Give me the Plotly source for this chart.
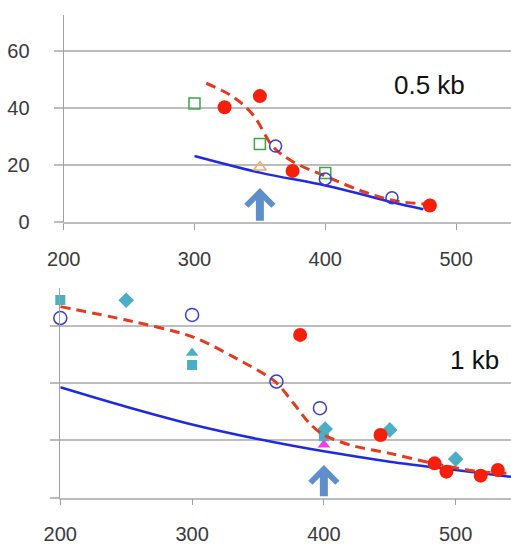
import plotly.graph_objects as go

# ---------------- Top panel (0.5 kb) ----------------
top_red_x = [323, 350, 375, 480]
top_red_y = [40.3, 44.2, 18.0, 5.9]
top_green_x = [300, 350, 400]
top_green_y = [41.6, 27.4, 17.3]
top_blue_x = [362, 400, 451]
top_blue_y = [26.7, 15.2, 8.6]
top_orange_x = [350]
top_orange_y = [19.3]

top_dash_x = [309, 330, 345, 360, 375, 400, 430, 455, 478]
top_dash_y = [48.7, 43.8, 37.5, 26.5, 21.3, 16.2, 10.6, 7.4, 6.4]
top_fit_x = [300, 350, 400, 432, 451, 475]
top_fit_y = [23.2, 17.4, 12.9, 9.3, 7.0, 4.6]

# ---------------- Bottom panel (1 kb) ----------------
bot_red_x = [382, 443, 484, 493, 519, 532]
bot_red_y = [56.9, 21.9, 12.0, 9.1, 7.7, 9.7]
bot_blue_x = [200, 300, 364, 397]
bot_blue_y = [62.8, 63.9, 40.6, 31.3]
bot_csq_x = [200, 300, 400]
bot_csq_y = [69.1, 46.4, 21.5]
bot_ctri_x = [300]
bot_ctri_y = [50.6]
bot_cdia_x = [250, 401, 450, 500]
bot_cdia_y = [69.0, 24.0, 23.7, 13.5]
bot_mag_x = [400]
bot_mag_y = [18.5]

bot_dash_x = [200, 250, 300, 331, 363, 377, 389, 400, 420, 450, 483, 518, 542]
bot_dash_y = [66.8, 62.1, 56.3, 49.3, 40.6, 33.0, 26.0, 21.9, 18.4, 15.5, 12.0, 9.1, 8.5]
bot_fit_x = [200, 250, 300, 350, 400, 450, 500, 542]
bot_fit_y = [38.6, 31.8, 25.6, 20.5, 16.2, 12.6, 9.7, 7.3]

x_ticks = [200, 300, 400, 500]
y_ticks = [0, 20, 40, 60]
labels = ["0.5 kb", "1 kb"]
arrow_x = [350, 400]
arrow_tip = [12.0, 11.4]

RED = "#F5200C"
DASH = "#E53A1E"
BLUE_LINE = "#1F2BE0"
OPEN_BLUE = "#3B3BD8"
GREEN = "#3FA34A"
ORANGE = "#F3A56A"
CYAN = "#4AAEC4"
MAGENTA = "#EE3FEE"
ARROW = "#5E8FCB"

fig = go.Figure()

def add(x, y, xa, ya, **kw):
    fig.add_trace(go.Scatter(x=x, y=y, xaxis=xa, yaxis=ya, showlegend=False, cliponaxis=False, **kw))

DASHSTYLE = "10px,6px"

# top
add(top_fit_x, top_fit_y, "x", "y", mode="lines",
    line=dict(color=BLUE_LINE, width=2.5, shape="spline", smoothing=1))
add(top_dash_x, top_dash_y, "x", "y", mode="lines",
    line=dict(color=DASH, width=3, dash=DASHSTYLE, shape="spline", smoothing=1))
add(top_green_x, top_green_y, "x", "y", mode="markers",
    marker=dict(symbol="square-open", size=11, color=GREEN, line=dict(width=1.5)))
add(top_orange_x, top_orange_y, "x", "y", mode="markers",
    marker=dict(symbol="triangle-up-open", size=11, color=ORANGE, line=dict(width=1.5)))
add(top_blue_x, top_blue_y, "x", "y", mode="markers",
    marker=dict(symbol="circle-open", size=12, color=OPEN_BLUE, line=dict(width=1.5)))
add(top_red_x, top_red_y, "x", "y", mode="markers",
    marker=dict(symbol="circle", size=14, color=RED))

# bottom
add(bot_fit_x, bot_fit_y, "x2", "y2", mode="lines",
    line=dict(color=BLUE_LINE, width=2.5, shape="spline", smoothing=1))
add(bot_csq_x, bot_csq_y, "x2", "y2", mode="markers", marker=dict(symbol="square", size=10, color=CYAN))
add(bot_ctri_x, bot_ctri_y, "x2", "y2", mode="markers", marker=dict(symbol="triangle-up", size=11, color=CYAN))
add(bot_cdia_x, bot_cdia_y, "x2", "y2", mode="markers", marker=dict(symbol="diamond", size=12, color=CYAN))
add(bot_mag_x, bot_mag_y, "x2", "y2", mode="markers", marker=dict(symbol="triangle-up", size=11, color=MAGENTA))
add(bot_dash_x, bot_dash_y, "x2", "y2", mode="lines",
    line=dict(color=DASH, width=3, dash=DASHSTYLE, shape="spline", smoothing=0.8))
add(bot_blue_x, bot_blue_y, "x2", "y2", mode="markers",
    marker=dict(symbol="circle-open", size=13, color=OPEN_BLUE, line=dict(width=1.5)))
add(bot_red_x, bot_red_y, "x2", "y2", mode="markers", marker=dict(symbol="circle", size=14, color=RED))

GRID = "#BDBDBD"
AX = "#A0A0A0"
tickfont = dict(family="Liberation Sans, Arial, sans-serif", size=20, color="#3A3A3A")

xcommon = dict(range=[200, 542], tickvals=x_ticks, showgrid=False, zeroline=False, automargin=False,
               showline=True, linecolor=GRID, linewidth=1.5, ticks="outside", ticklen=6,
               tickcolor=AX, tickwidth=1, tickfont=dict(tickfont, size=20), ticklabelstandoff=12)
ycommon = dict(tickvals=y_ticks, showgrid=True, gridcolor=GRID, gridwidth=1.5, zeroline=False,
               automargin=False,
               showline=True, linecolor=AX, linewidth=1.2, ticks="outside", ticklen=9,
               tickcolor=GRID, tickwidth=1.5, tickfont=tickfont, ticklabelstandoff=20)

fig.update_layout(
    width=511, height=547, margin=dict(l=0, r=0, t=0, b=0),
    plot_bgcolor="white", paper_bgcolor="white",
    xaxis=dict(xcommon, domain=[63.7 / 511, 1], anchor="y"),
    yaxis=dict(ycommon, domain=[(547 - 222.3) / 547, (547 - 15.3) / 547], range=[0, 72.5], anchor="x"),
    xaxis2=dict(xcommon, domain=[60.3 / 511, 1], anchor="y2"),
    yaxis2=dict(ycommon, domain=[(547 - 497.7) / 547, (547 - 288) / 547], range=[0, 73.3],
                anchor="x2", showticklabels=False),
)

for i, (xr, yr) in enumerate([("x", "y"), ("x2", "y2")]):
    fig.add_annotation(x=arrow_x[i], y=arrow_tip[i], ax=arrow_x[i], ay=0, xref=xr, yref=yr,
                       axref=xr, ayref=yr, text="", showarrow=True, arrowhead=4,
                       arrowsize=0.65, arrowwidth=8, arrowcolor=ARROW)

fig.add_annotation(x=480, y=48, xref="x", yref="y", text=labels[0], showarrow=False,
                   font=dict(family="Liberation Sans, Arial, sans-serif", size=26, color="#111111"))
fig.add_annotation(x=514, y=48, xref="x2", yref="y2", text=labels[1], showarrow=False,
                   font=dict(family="Liberation Sans, Arial, sans-serif", size=26, color="#111111"))

fig.write_html("out.html", config={"displayModeBar": False},
               post_script="document.body.style.margin='0';document.body.style.overflow='hidden';")
